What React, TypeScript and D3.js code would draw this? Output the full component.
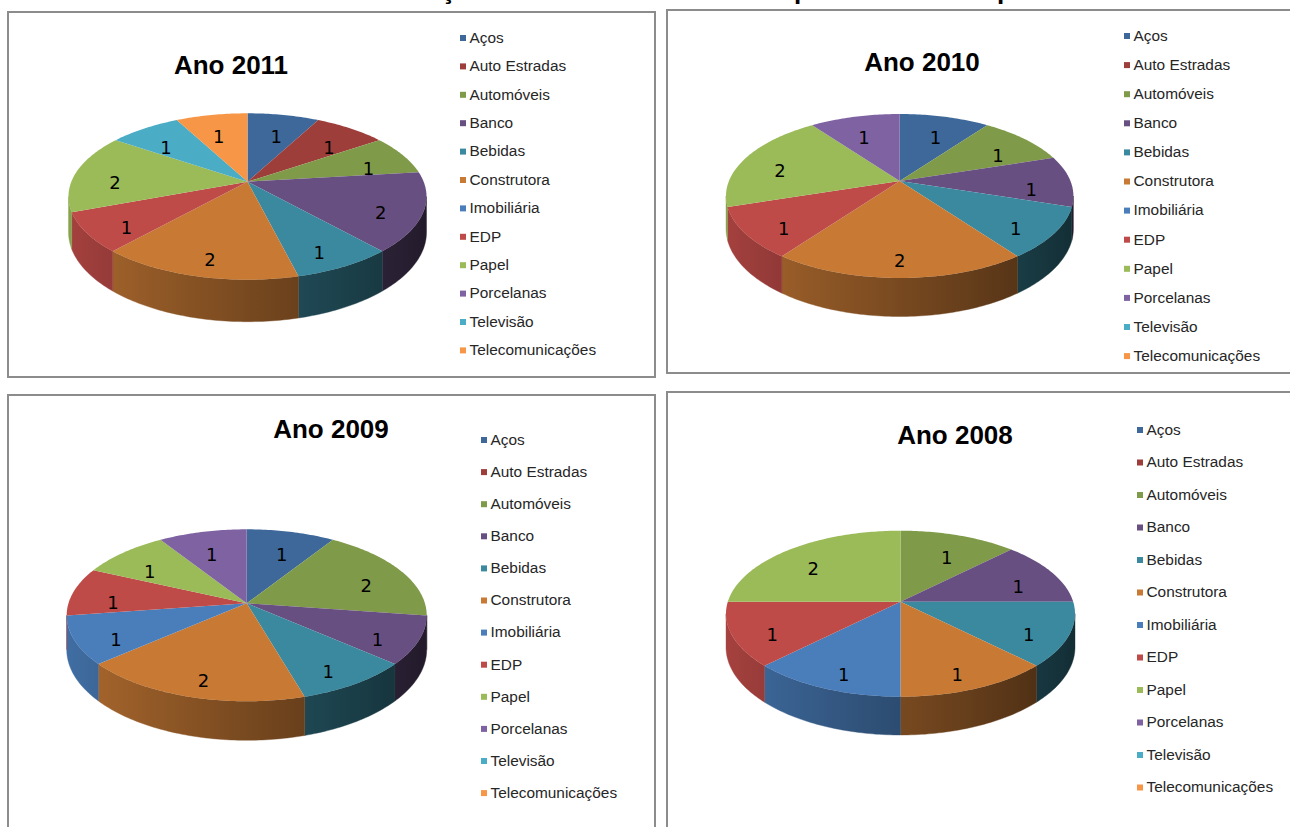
import React from "react";
import * as d3 from "d3";

// Sectors shown in every chart (legend order = slice order, clockwise from 12 o'clock)
const categories = [
  "Aços",
  "Auto Estradas",
  "Automóveis",
  "Banco",
  "Bebidas",
  "Construtora",
  "Imobiliária",
  "EDP",
  "Papel",
  "Porcelanas",
  "Televisão",
  "Telecomunicações",
];

const sectorColors = [
  "#3D6899",
  "#9D3E3B",
  "#7F9A48",
  "#684F82",
  "#3A899F",
  "#C87A35",
  "#4A7EBB",
  "#BE4B48",
  "#9BBB59",
  "#7F62A1",
  "#4BACC6",
  "#F79646",
];

// Number of companies per sector, by year
const values2011 = [1, 1, 1, 2, 1, 2, 0, 1, 2, 0, 1, 1];
const values2010 = [1, 0, 1, 1, 1, 2, 0, 1, 2, 1, 0, 0];
const values2009 = [1, 0, 2, 1, 1, 2, 1, 1, 1, 1, 0, 0];
const values2008 = [0, 0, 1, 1, 1, 1, 1, 1, 2, 0, 0, 0];

const years = ["2011", "2010", "2009", "2008"];
const yearValues = [values2011, values2010, values2009, values2008];

// Layout of the four chart panels
const panels = [
  {
    box: [8, 12, 647, 365],
    title: [231, 74],
    pie: { cx: 247.5, cy: 181.7, W: 179, T: 68.4, Bt: 98, D: 42 },
    legend: { x: 460, y0: 38, dy: 28.4 },
  },
  {
    box: [667, 10, 640, 363],
    title: [922, 71],
    pie: { cx: 899.7, cy: 181, W: 173.7, T: 67, Bt: 97, D: 38.5 },
    legend: { x: 1124, y0: 36, dy: 29.1 },
  },
  {
    box: [8, 395, 647, 450],
    title: [331, 438],
    pie: { cx: 246.7, cy: 603.3, W: 180, T: 74, Bt: 98, D: 39 },
    legend: { x: 481, y0: 440, dy: 32.1 },
  },
  {
    box: [667, 392, 640, 450],
    title: [955, 444],
    pie: { cx: 900.5, cy: 601.7, W: 174.5, T: 71, Bt: 95, D: 38.3 },
    legend: { x: 1137, y0: 430, dy: 32.5 },
  },
];

type PieGeom = { cx: number; cy: number; W: number; T: number; Bt: number; D: number };

// Perspective projection of a tilted disc: theta clockwise from the back (top),
// r = fraction of the radius, z = 0 for the top face, 1 for the bottom face.
function makeProjection(g: PieGeom) {
  const p = (g.Bt - g.T) / (g.Bt + g.T);
  const B = g.T * (1 + p);
  const A = g.W * Math.sqrt(1 - p * p);
  const H = g.D * (1 - p);
  const project = (theta: number, r: number, z: number): [number, number] => {
    const u = r * Math.sin(theta);
    const v = r * Math.cos(theta);
    const w = 1 + p * v;
    return [g.cx + (A * u) / w, g.cy + (-B * v + H * z) / w];
  };
  return { project, p };
}

function sampleAngles(a0: number, a1: number): number[] {
  const n = Math.max(2, Math.ceil((a1 - a0) / (Math.PI / 180)));
  return d3.range(n + 1).map((k) => a0 + ((a1 - a0) * k) / n);
}

const fmt = (pt: [number, number]) => `${pt[0].toFixed(2)},${pt[1].toFixed(2)}`;

// Side-wall brightness: lit from the left, darker towards the right
const wallShade = (theta: number) => 0.6 - 0.28 * Math.sin(theta);

function shade(color: string, m: number) {
  const c = d3.rgb(color);
  return d3.rgb(c.r * m, c.g * m, c.b * m).formatHex();
}

const pieGen = d3
  .pie<number>()
  .sort(null)
  .value((d) => d)
  .startAngle(0)
  .endAngle(2 * Math.PI);

function Pie3D({ values, geom, id }: { values: number[]; geom: PieGeom; id: string }) {
  const { project, p } = makeProjection(geom);
  const arcs = pieGen(values);
  const wallFrom = Math.PI / 2 + Math.asin(p);
  const wallTo = (3 * Math.PI) / 2 - Math.asin(p);

  const walls: React.ReactNode[] = [];
  const gradients: React.ReactNode[] = [];
  const tops: React.ReactNode[] = [];
  const labels: React.ReactNode[] = [];

  arcs.forEach((a, i) => {
    if (a.value <= 0) return;
    const color = sectorColors[i];
    const a0 = a.startAngle;
    const a1 = a.endAngle;

    // top face
    const rim = sampleAngles(a0, a1).map((t) => project(t, 1, 0));
    const center = project(0, 0, 0);
    const topPath = `M${fmt(center)}L${rim.map(fmt).join("L")}Z`;
    tops.push(<path key={`t${i}`} d={topPath} fill={color} />);

    // visible outer wall
    const w0 = Math.max(a0, wallFrom);
    const w1 = Math.min(a1, wallTo);
    if (w1 > w0) {
      const angles = sampleAngles(w0, w1);
      const topRim = angles.map((t) => project(t, 1, 0));
      const botRim = angles.map((t) => project(t, 1, 1)).reverse();
      const d = `M${topRim.map(fmt).join("L")}L${botRim.map(fmt).join("L")}Z`;
      const gid = `${id}-w${i}`;
      const xLeft = project(w1, 1, 0)[0];
      const xRight = project(w0, 1, 0)[0];
      const span = Math.max(1e-6, xRight - xLeft);
      const stops = angles
        .slice()
        .reverse()
        .filter((_, k, arr) => k % 4 === 0 || k === arr.length - 1)
        .map((t, k) => {
          const x = project(t, 1, 0)[0];
          return (
            <stop
              key={k}
              offset={Math.min(1, Math.max(0, (x - xLeft) / span))}
              stopColor={shade(color, wallShade(t))}
            />
          );
        });
      gradients.push(
        <linearGradient key={gid} id={gid} gradientUnits="userSpaceOnUse" x1={xLeft} y1={0} x2={xRight} y2={0}>
          {stops}
        </linearGradient>
      );
      walls.push(<path key={`w${i}`} d={d} fill={`url(#${gid})`} stroke={`url(#${gid})`} strokeWidth={0.4} />);
    }

    // data label
    const mid = (a0 + a1) / 2;
    const lp = project(mid, 0.77, 0);
    labels.push(
      <text
        key={`l${i}`}
        x={lp[0]}
        y={lp[1] + 8}
        textAnchor="middle"
        dominantBaseline="central"
        fontFamily="'DejaVu Sans', sans-serif"
        fontSize={18}
        fill="#000"
      >
        {a.value}
      </text>
    );
  });

  return (
    <g>
      <defs>{gradients}</defs>
      {walls}
      {tops}
      {labels}
    </g>
  );
}

function Legend({ x, y0, dy }: { x: number; y0: number; dy: number }) {
  return (
    <g>
      {categories.map((name, i) => {
        const y = y0 + i * dy;
        return (
          <g key={name}>
            <rect x={x} y={y - 3} width={6} height={6} fill={sectorColors[i]} />
            <text
              x={x + 9.5}
              y={y + 4.8}
              fontFamily="'Liberation Sans', Arial, sans-serif"
              fontSize={15.4}
              fill="#262626"
            >
              {name}
            </text>
          </g>
        );
      })}
    </g>
  );
}

export default function App() {
  return (
    <svg
      width={1290}
      height={827}
      viewBox="0 0 1290 827"
      style={{ position: "absolute", left: 0, top: 0, background: "#fff" }}
    >
      <rect x={0} y={0} width={1290} height={827} fill="#fff" />
      {/* heading above the panels, cut by the top edge */}
      <text y={-1} fontFamily="'Liberation Sans', Arial, sans-serif" fontWeight="bold" fontSize={26} fill="#000">
        <tspan x={441}>ç</tspan>
        <tspan x={794}>p</tspan>
        <tspan x={997}>p</tspan>
      </text>
      {panels.map((pn, k) => (
        <g key={years[k]}>
          <rect
            x={pn.box[0]}
            y={pn.box[1]}
            width={pn.box[2]}
            height={pn.box[3]}
            fill="#fff"
            stroke="#8c8c8c"
            strokeWidth={2}
          />
          <text
            x={pn.title[0]}
            y={pn.title[1]}
            textAnchor="middle"
            fontFamily="'Liberation Sans', Arial, sans-serif"
            fontWeight="bold"
            fontSize={26}
            fill="#000"
          >
            {`Ano ${years[k]}`}
          </text>
          <Pie3D values={yearValues[k]} geom={pn.pie} id={`pie${years[k]}`} />
          <Legend {...pn.legend} />
        </g>
      ))}
    </svg>
  );
}
